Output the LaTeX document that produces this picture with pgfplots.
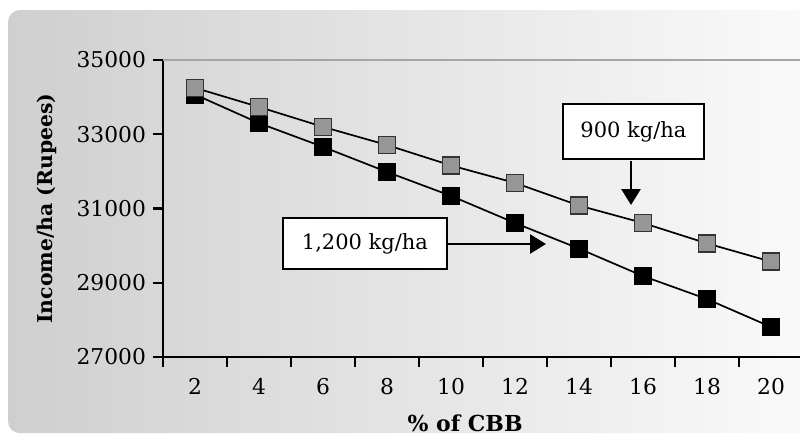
\documentclass[border=0pt]{standalone}
\usepackage{fontspec}
\setmainfont{DejaVu Serif}
\usepackage{pgfplots}
\pgfplotsset{compat=1.18}
\usetikzlibrary{arrows.meta}

\definecolor{panelL}{RGB}{207,207,207}
\definecolor{panelR}{RGB}{251,251,251}
\definecolor{markgray}{RGB}{150,150,150}
\definecolor{framegray}{RGB}{165,165,165}

% income per ha for each level of CBB; x = category index (2,4,...,20 %)
\pgfplotstableread{
x  kg1200  kg900
0  34070   34250
1  33300   33735
2  32660   33200
3  31985   32710
4  31340   32160
5  30610   31690
6  29920   31080
7  29180   30610
8  28560   30060
9  27810   29570
}\income

\begin{document}
\begin{tikzpicture}
\path[use as bounding box] (0,0) rectangle (400pt,-217.5pt);
\clip (0,0) rectangle (400pt,-217.5pt);
\shade[left color=panelL, right color=panelR, rounded corners=6pt]
  (4pt,-5pt) rectangle (412pt,-216.6pt);
\begin{axis}[
  at={(81.5pt,-178.5pt)}, anchor=south west,
  scale only axis, width=320pt, height=148.5pt,
  xmin=-0.5, xmax=9.5, ymin=27000, ymax=35000,
  axis lines=left,
  axis line style={-, black, line width=1pt},
  xtick={-0.5,0.5,...,9.5},
  xticklabels={2,4,6,8,10,12,14,16,18,20,{}},
  xticklabel style={xshift=16pt, yshift=-2pt},
  ytick={27000,29000,...,35000},
  scaled ticks=false,
  /pgf/number format/.cd, 1000 sep={}, assume math mode=true, /pgfplots/.cd,
  tick align=outside,
  major tick length=5pt,
  tick style={black, line width=1.1pt},
  tick label style={font=\fontsize{10.9}{12}\selectfont},
  xlabel={\% of CBB},
  ylabel={Income/ha (Rupees)},
  label style={font=\bfseries\fontsize{11}{13}\selectfont},
  xlabel style={at={(axis description cs:0.472,-0.222)}, anchor=center},
  ylabel style={at={(axis description cs:-0.181,0.5)}, anchor=center,
    font=\bfseries\fontsize{10.2}{12}\selectfont},
  clip=false,
]
\draw[framegray, line width=0.6pt] (rel axis cs:0,1) -- (rel axis cs:1,1);
\addplot[black, line width=0.85pt, mark=square*,
  mark size=4.25pt, mark options={fill=black, draw=black, line width=0.5pt}]
  table[x=x, y=kg1200] {\income};
\addplot[black, line width=0.85pt, mark=square*,
  mark size=4.25pt, mark options={fill=markgray, draw=black!80, line width=0.6pt}]
  table[x=x, y=kg900] {\income};
\end{axis}
% callout boxes and their arrows
\node[draw=black, line width=1.1pt, fill=white, minimum width=70.5pt, minimum height=27.5pt,
  font=\fontsize{10.5}{12}\selectfont] at (316.75pt,-65.75pt) {900 kg/ha};
\draw[line width=1.3pt, -{Triangle[length=8pt, width=9.5pt]}] (315.5pt,-80.5pt) -- (315.5pt,-102.5pt);
\node[draw=black, line width=1.1pt, fill=white, minimum width=82pt, minimum height=25.5pt,
  font=\fontsize{10.5}{12}\selectfont] at (182.5pt,-121.75pt) {1,200 kg/ha};
\draw[line width=1.3pt, -{Triangle[length=8pt, width=9.5pt]}] (223.5pt,-122pt) -- (273pt,-122pt);
\end{tikzpicture}
\end{document}
